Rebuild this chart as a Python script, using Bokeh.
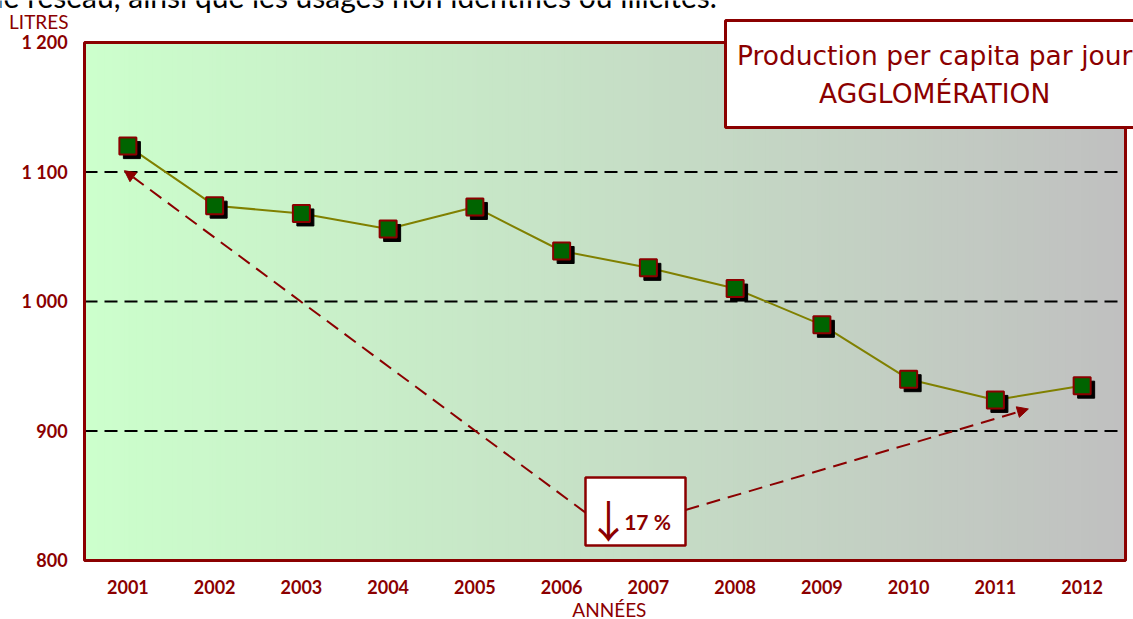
from bokeh.plotting import figure
from bokeh.models import Range1d, Label, Arrow, NormalHead, ColumnDataSource
from bokeh.core.properties import value
from bokeh.transform import dodge
from bokeh.embed import file_html
from bokeh.resources import INLINE

# Daily production per capita (litres), agglomeration
years = ["2001", "2002", "2003", "2004", "2005", "2006",
         "2007", "2008", "2009", "2010", "2011", "2012"]
litres = [1120, 1074, 1068, 1056, 1073, 1039, 1026, 1010, 982, 940, 924, 935]
y_ticks = [800, 900, 1000, 1100, 1200]
y_tick_labels = ["800", "900", "1 000", "1 100", "1 200"]

RED = "#8B0000"
FONT = "Lato"

idx = list(range(1, len(years) + 1))
src = ColumnDataSource(dict(x=idx, y=litres))
xt = ColumnDataSource(dict(x=idx, y=[779.5] * len(idx), t=years))
yt = ColumnDataSource(dict(x=[0.305] * len(y_ticks), y=y_ticks, t=y_tick_labels))

# The whole canvas is data space; the plot area is the 0.5-12.5 x 800-1200 box.
p = figure(width=1133, height=619, output_backend="svg", toolbar_location=None,
           x_range=Range1d(-0.4683, 12.592), y_range=Range1d(754.44, 1232.43),
           x_axis_type=None, y_axis_type=None, min_border=0)
p.background_fill_color = "white"
p.border_fill_color = "white"
p.outline_line_color = None

# horizontal background gradient, light green to grey
n = 260
x0, x1 = 0.5, 12.5
c0, c1 = (204, 255, 204), (192, 192, 192)
lefts, rights, cols = [], [], []
for i in range(n):
    t = i / (n - 1)
    lefts.append(x0 + (x1 - x0) * i / n)
    rights.append(min(x1, x0 + (x1 - x0) * (i + 1) / n + 0.01))
    cols.append("#%02x%02x%02x" % tuple(round(a + (b - a) * t) for a, b in zip(c0, c1)))
p.quad(left=lefts, right=rights, bottom=800, top=1200, fill_color=cols, line_color=None)

# dashed value gridlines and plot-area border
p.segment(x0=0.5, x1=12.5, y0="y", y1="y", source=yt, line_color="black",
          line_width=2, line_dash="13 7")
p.quad(left=0.5, right=12.5, bottom=800, top=1200, fill_color=None,
       line_color=RED, line_width=3)

# tick labels placed through the data scales
p.text("x", "y", text="t", source=yt, text_font=value(FONT), text_font_style="bold",
       text_font_size="18px", text_color=RED, text_align="right", text_baseline="middle")
p.text("x", "y", text="t", source=xt, text_font=value(FONT), text_font_style="bold",
       text_font_size="18px", text_color=RED, text_align="center", text_baseline="middle")
p.add_layout(Label(x=6.55, y=762.2, text="ANNÉES", text_font=FONT, text_font_size="19px",
                   text_color=RED, text_align="center", text_baseline="middle"))
p.add_layout(Label(x=0.316, y=1216.4, text="LITRES", text_font=FONT, text_font_size="19px",
                   text_color=RED, text_align="right", text_baseline="middle"))

# series line, markers with drop shadow
p.line("x", "y", source=src, line_color="#808000", line_width=2)
p.scatter(x=dodge("x", 4 / 86.75, range=p.x_range), y=dodge("y", -4 / 1.295, range=p.y_range),
          source=src, marker="square", size=17, fill_color="black", line_color="black")
p.scatter("x", "y", source=src, marker="square", size=17, fill_color="#006400",
          line_color=RED, line_width=2)

# change 2001 -> 2011
head = dict(size=11, fill_color=RED, line_color=RED)
p.add_layout(Arrow(x_start=6.275, y_start=837, x_end=0.96, y_end=1101,
                   line_color=RED, line_width=2, line_dash="14 8",
                   end=NormalHead(**head)))
p.add_layout(Arrow(x_start=7.428, y_start=839, x_end=11.38, y_end=917,
                   line_color=RED, line_width=2, line_dash="14 8",
                   end=NormalHead(**head)))
p.quad(left=6.275, right=7.428, bottom=811.6, top=864.1, fill_color="white",
       line_color=RED, line_width=2.5)
p.add_layout(Label(x=6.54, y=832.4, text="↓", text_font="Noto Sans CJK JP",
                   text_font_size="44px", text_color=RED, text_align="center",
                   text_baseline="middle"))
p.add_layout(Label(x=6.99, y=830.5, text="17 %", text_font=FONT, text_font_style="bold",
                   text_font_size="21px", text_color=RED, text_align="center",
                   text_baseline="middle"))

# title box
p.quad(left=7.889, right=12.7, bottom=1134.4, top=1217, fill_color="white",
       line_color=RED, line_width=3)
p.add_layout(Label(x=10.30, y=1190.0, text="Production per capita par jour",
                   text_font="DejaVu Sans", text_font_size="26.5px", text_color=RED,
                   text_align="center", text_baseline="middle"))
p.add_layout(Label(x=10.30, y=1161.0, text="AGGLOMÉRATION",
                   text_font="DejaVu Sans", text_font_size="26.5px", text_color=RED,
                   text_align="center", text_baseline="middle"))

# running text from the page above the chart
p.add_layout(Label(x=-0.514, y=1235.75,
                   text="le réseau, ainsi que les usages non identifiés ou illicites.",
                   text_font=FONT, text_font_size="30px", text_color="black",
                   text_baseline="middle"))

open("out.html", "w").write(file_html(p, INLINE))
